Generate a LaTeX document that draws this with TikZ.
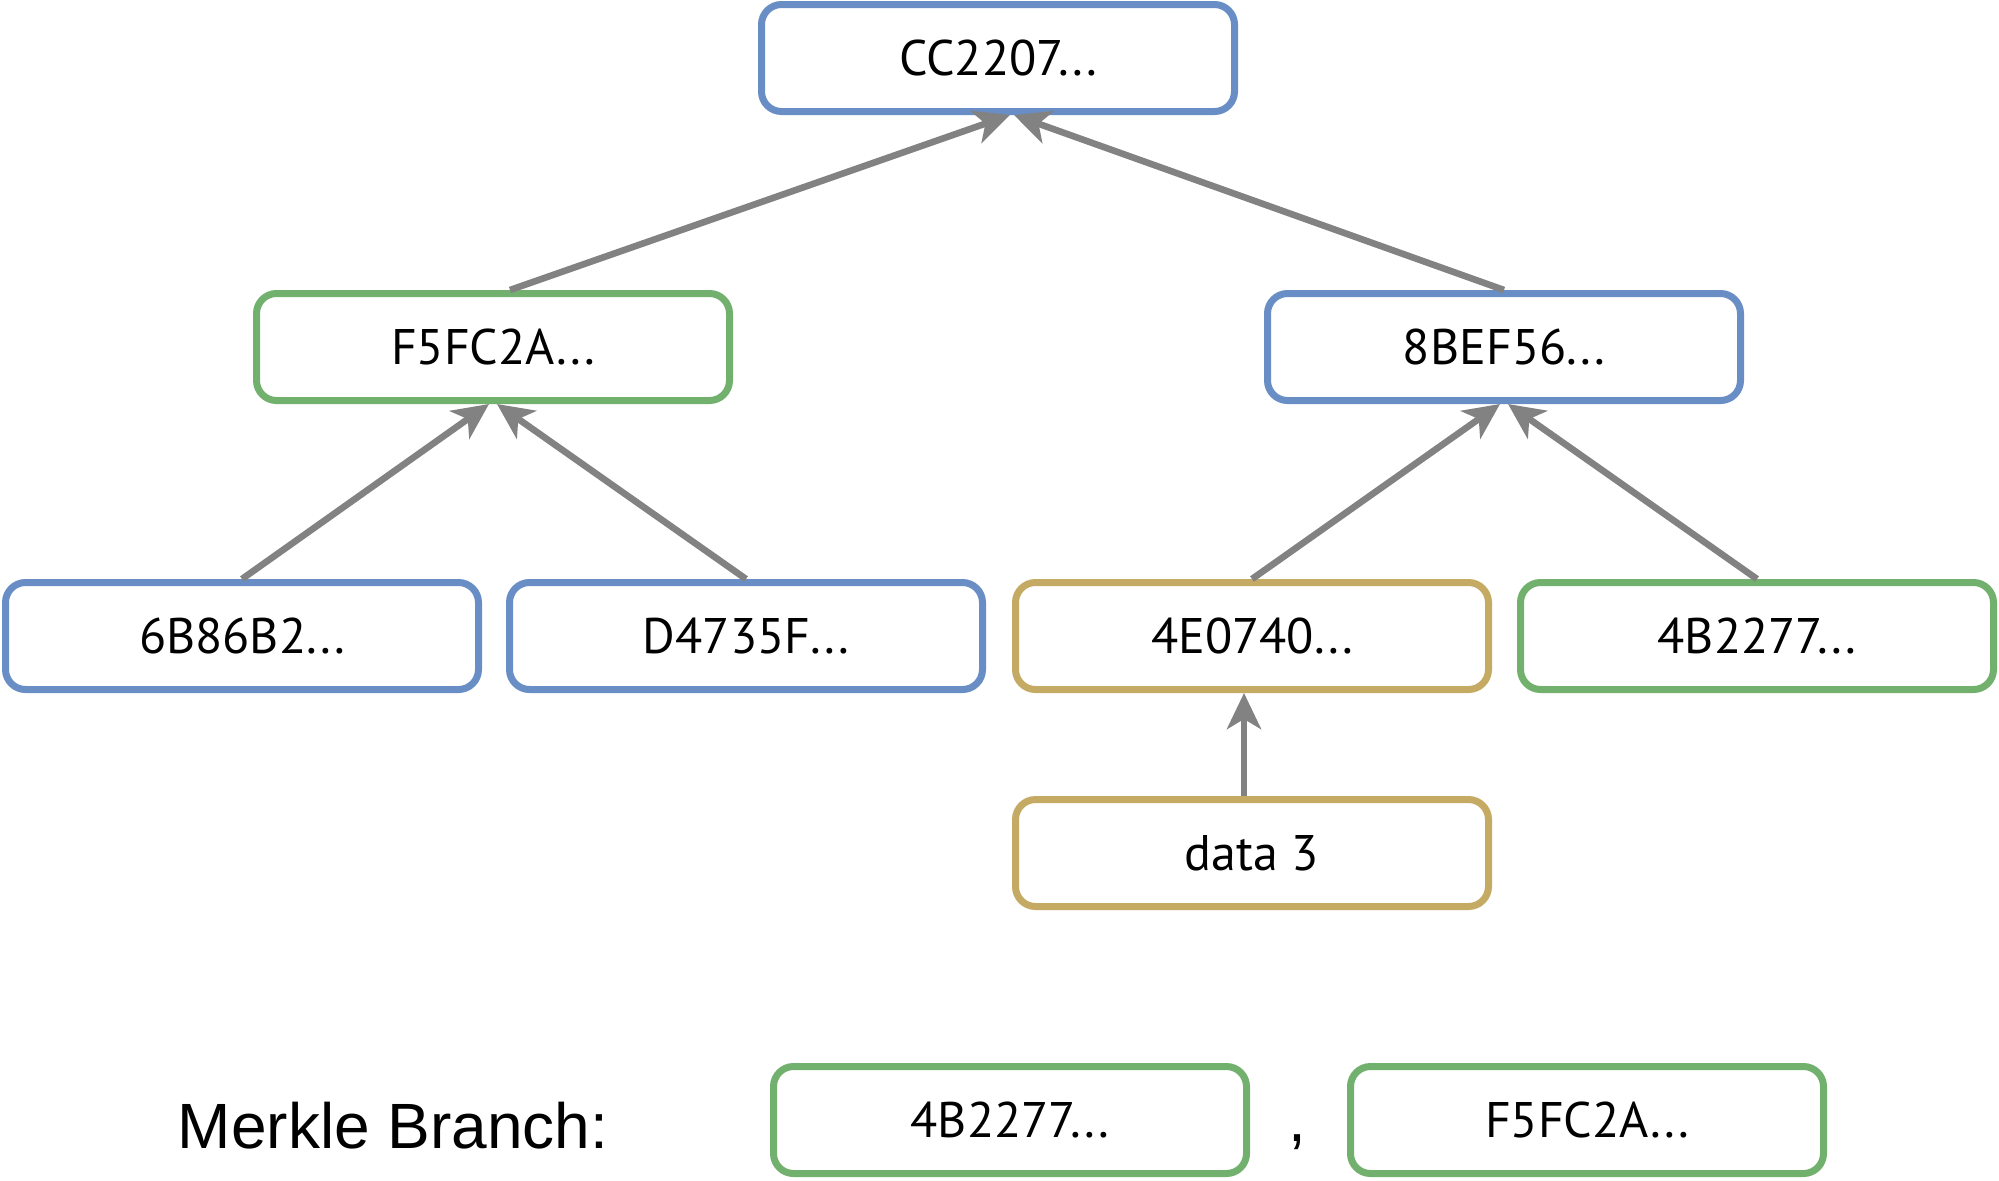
\documentclass[tikz,border=0pt]{standalone}
\usepackage{fontspec}
\setmainfont{PT Sans}
\newfontfamily\labelfont{Liberation Sans}
\usetikzlibrary{arrows.meta}
\definecolor{bblue}{RGB}{104,142,197}
\definecolor{bgreen}{RGB}{114,176,110}
\definecolor{bgold}{RGB}{196,170,98}
\definecolor{agray}{RGB}{130,130,130}
\tikzset{
  hbox/.style={draw=#1, line width=3.5pt, rounded corners=10pt, fill=white,
    minimum width=236.5pt, minimum height=53.5pt, inner sep=0pt,
    font=\fontsize{25}{30}\selectfont},
  link/.style={draw=agray, line width=3.3pt,
    -{Stealth[length=18pt, width=17pt, inset=5pt]}}
}
\begin{document}
\begin{tikzpicture}[x=0.5pt, y=-0.5pt]
\useasboundingbox (0,0) rectangle (1999,1180);
\node[hbox=bblue] (cc) at (998,58) {CC2207...};
\node[hbox=bgreen] (f5) at (493,347) {F5FC2A...};
\node[hbox=bblue] (8b) at (1504,347) {8BEF56...};
\node[hbox=bblue] (6b) at (242,636) {6B86B2...};
\node[hbox=bblue] (d4) at (746,636) {D4735F...};
\node[hbox=bgold] (4e) at (1252,636) {4E0740...};
\node[hbox=bgreen] (4b) at (1757,636) {4B2277...};
\node[hbox=bgold] (d3) at (1252,853) {data 3};
\node[hbox=bgreen] (m1) at (1010,1120) {4B2277...};
\node[hbox=bgreen] (m2) at (1587,1120) {F5FC2A...};
\node[font=\labelfont\fontsize{32}{38}\selectfont] (mb) at (393,1126) {Merkle Branch:};
\node[font=\labelfont\fontsize{32}{38}\selectfont] (cm) at (1297,1142) {,};
\draw[link] ([xshift=8.5pt]f5.north) -- ([xshift=6pt]cc.south);
\draw[link] (8b.north) -- ([xshift=8pt]cc.south);
\draw[link] (6b.north) -- ([xshift=-2pt]f5.south);
\draw[link] (d4.north) -- ([xshift=2pt]f5.south);
\draw[link] (4e.north) -- ([xshift=-2pt]8b.south);
\draw[link] (4b.north) -- ([xshift=2pt]8b.south);
\draw[link] ([xshift=-4pt]d3.north) -- ([xshift=-4pt]4e.south);
\end{tikzpicture}
\end{document}
